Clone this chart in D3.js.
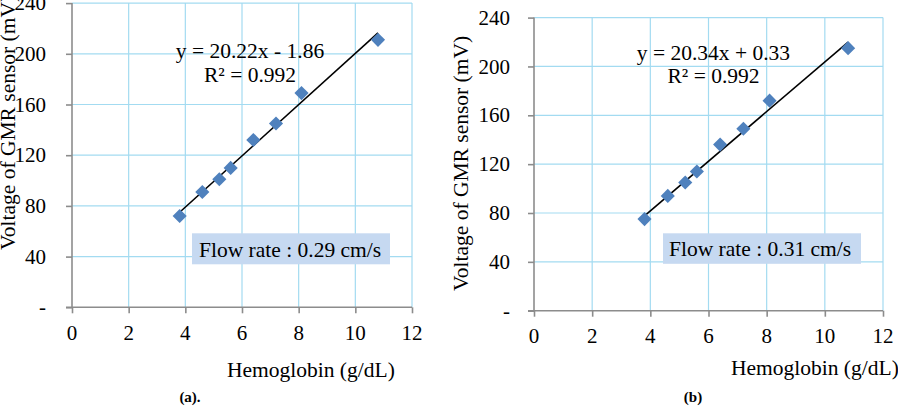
<!DOCTYPE html>
<html><head><meta charset="utf-8">
<script src="https://cdn.jsdelivr.net/npm/d3@7"></script>
<style>
html,body{margin:0;padding:0;background:#fff;}
svg text{font-family:"Liberation Serif","Times New Roman",serif;fill:#000;}
</style></head>
<body>
<svg id="chart" width="898" height="410"></svg>
<script>
// ---- data ----
const hemoglobin = [3.8, 4.6, 5.2, 5.6, 6.4, 7.2, 8.1, 10.8];
const voltageA = [72, 91, 101, 110, 132, 145, 169, 211];
const voltageB = [75, 94, 105, 114, 136, 149, 172, 215];
const xTicks = [0, 2, 4, 6, 8, 10, 12];
const yTicks = [0, 40, 80, 120, 160, 200, 240];
const yTickLabels = ["-", "40", "80", "120", "160", "200", "240"];
const trendA = {slope: 20.22, intercept: -1.86};
const trendB = {slope: 20.34, intercept: 0.33};
const equationA = ["y = 20.22x - 1.86", "R² = 0.992"];
const equationB = ["y = 20.34x + 0.33", "R² = 0.992"];
const flowA = "Flow rate : 0.29 cm/s";
const flowB = "Flow rate : 0.31 cm/s";
const xTitle = "Hemoglobin (g/dL)";
const yTitle = "Voltage of GMR sensor (mV)";
const captions = ["(a).", "(b)"];

const svg = d3.select("#chart");

const panels = [
  {x0:72, x1:412, y0:307.3, y1:3.1, vals:voltageA, trend:trendA, eq:equationA, eqX:250, eqY:[58,82],
   flow:flowA, box:[192,233.3,198,31], flowText:[199,256.5], xtY:340, xTitleX:227, xTitleY:377,
   yTitleX:15, yTitleY:250, yLabX:46, cap:captions[0], capX:190},
  {x0:534, x1:883, y0:310.7, y1:17.6, vals:voltageB, trend:trendB, eq:equationB, eqX:713.5, eqY:[60,83],
   flow:flowB, box:[663,233.3,198,30.5], flowText:[669,255.5], xtY:343, xTitleX:731, xTitleY:375,
   yTitleX:468, yTitleY:291, yLabX:510, cap:captions[1], capX:693}
];

panels.forEach(p => {
  const g = svg.append("g");
  const x = d3.scaleLinear().domain([0,12]).range([p.x0,p.x1]);
  const y = d3.scaleLinear().domain([0,240]).range([p.y0,p.y1]);

  // gridlines
  g.append("g").selectAll("line").data(yTicks.filter(d=>d>0)).join("line")
    .attr("x1",p.x0).attr("x2",p.x1).attr("y1",d=>y(d)).attr("y2",d=>y(d))
    .attr("stroke","#a3dbf1").attr("stroke-width",1.2);
  g.append("g").selectAll("line").data(xTicks.filter(d=>d>0)).join("line")
    .attr("y1",p.y0).attr("y2",p.y1).attr("x1",d=>x(d)).attr("x2",d=>x(d))
    .attr("stroke","#a3dbf1").attr("stroke-width",1.2);

  // axes
  const ya = g.append("g").attr("transform",`translate(${p.x0},0)`)
    .call(d3.axisLeft(y).tickValues(yTicks).tickSize(6).tickFormat(""));
  const xa = g.append("g").attr("transform",`translate(0,${p.y0})`)
    .call(d3.axisBottom(x).tickValues(xTicks).tickSize(6).tickFormat(""));
  [ya,xa].forEach(a=>{
    a.select(".domain").attr("stroke","#8c8c8c").attr("stroke-width",1.6);
    a.selectAll(".tick line").attr("stroke","#8c8c8c").attr("stroke-width",1.6);
  });
  ya.select(".domain").attr("d",`M0,${p.y1}V${p.y0}`);
  xa.select(".domain").attr("d",`M${p.x0-6},0H${p.x1}`);

  // tick labels
  g.append("g").selectAll("text").data(yTicks).join("text")
    .attr("x",p.yLabX).attr("y",d=>y(d)).attr("dy","0.34em")
    .attr("text-anchor","end").style("font-size","21px")
    .text((d,i)=>yTickLabels[i]);
  g.append("g").selectAll("text").data(xTicks).join("text")
    .attr("x",d=>x(d)).attr("y",p.xtY).attr("text-anchor","middle")
    .style("font-size","21px").text(d=>d);

  // trendline
  const ext = d3.extent(hemoglobin);
  g.append("line")
    .attr("x1",x(ext[0])).attr("y1",y(p.trend.slope*ext[0]+p.trend.intercept))
    .attr("x2",x(ext[1])).attr("y2",y(p.trend.slope*ext[1]+p.trend.intercept))
    .attr("stroke","#000").attr("stroke-width",1.6);

  // markers
  const sym = d3.symbol().type(d3.symbolSquare).size(100);
  g.append("g").selectAll("path").data(hemoglobin).join("path")
    .attr("d",sym())
    .attr("transform",(d,i)=>`translate(${x(d)},${y(p.vals[i])}) rotate(45)`)
    .attr("fill","#4f81bd");

  // equation
  g.append("g").selectAll("text").data(p.eq).join("text")
    .attr("x",p.eqX).attr("y",(d,i)=>p.eqY[i]).attr("text-anchor","middle")
    .style("font-size","21.5px").text(d=>d);

  // flow rate box
  g.append("rect").attr("x",p.box[0]).attr("y",p.box[1]).attr("width",p.box[2]).attr("height",p.box[3])
    .attr("fill","#c6d9f1");
  g.append("text").attr("x",p.flowText[0]).attr("y",p.flowText[1])
    .style("font-size","21.5px").text(p.flow);

  // axis titles
  g.append("text").attr("x",p.xTitleX).attr("y",p.xTitleY).style("font-size","21.5px").text(xTitle);
  g.append("text").attr("transform",`translate(${p.yTitleX},${p.yTitleY}) rotate(-90)`)
    .style("font-size","21.5px").text(yTitle);

  // caption
  g.append("text").attr("x",p.capX).attr("y",402).attr("text-anchor","middle")
    .style("font-size","15px").style("font-weight","bold").text(p.cap);
});
</script>
</body></html>
